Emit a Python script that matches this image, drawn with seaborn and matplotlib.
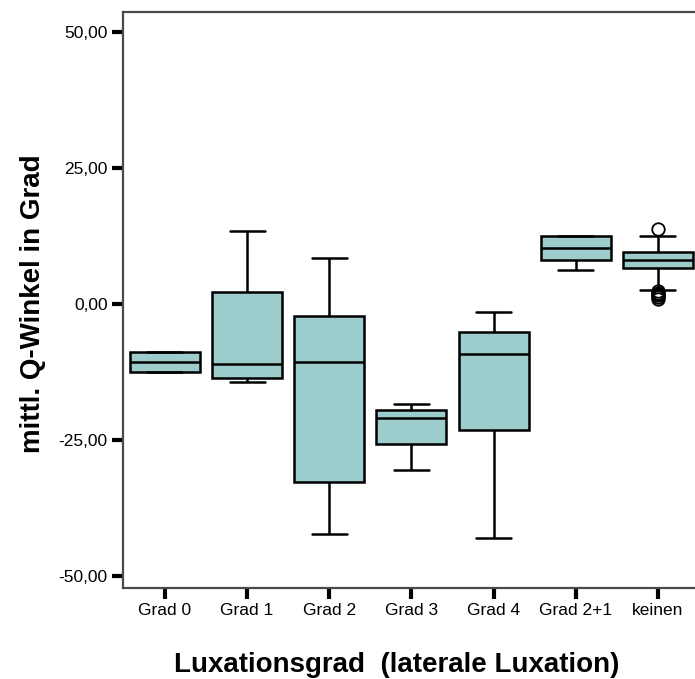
import matplotlib
matplotlib.use("Agg")
import matplotlib.pyplot as plt
from matplotlib.ticker import FuncFormatter
import pandas as pd
import seaborn as sns

# Groups on the x axis
categories = ["Grad 0", "Grad 1", "Grad 2", "Grad 3", "Grad 4", "Grad 2+1", "keinen"]

# Mean Q-angle values (degrees) per luxation grade
grad_0 = [-12.5, -12.5, -10.7, -8.8, -8.8]
grad_1 = [-14.3, -13.5, -11.0, 2.2, 13.5]
grad_2 = [-42.3, -32.7, -10.7, -2.2, 8.5]
grad_3 = [-30.5, -25.7, -20.9, -19.5, -18.4]
grad_4 = [-43.0, -23.2, -9.2, -5.1, -1.5]
grad_2_1 = [6.25, 8.1, 10.3, 12.5, 12.5]
keinen = [1.0, 1.3, 1.6, 1.8, 2.1, 2.4, 2.6,
          6.6, 6.8, 7.0, 7.3, 7.5, 7.7, 7.9,
          8.1, 8.3, 8.5, 8.8, 9.0, 9.2, 9.4,
          9.55, 10.0, 10.6, 11.2, 11.8, 12.2, 12.5,
          13.75]

y_ticks = [-50, -25, 0, 25, 50]

groups = [grad_0, grad_1, grad_2, grad_3, grad_4, grad_2_1, keinen]
df = pd.DataFrame({
    "Luxationsgrad": [c for c, g in zip(categories, groups) for _ in g],
    "Q-Winkel": [v for g in groups for v in g],
})

sns.set_style("white")
plt.rcParams["font.family"] = ["Liberation Sans", "DejaVu Sans"]

W, H = 695, 679
fig = plt.figure(figsize=(W / 100, H / 100), dpi=100)
left, right, top, bottom = 123, 699, 12, 588
ax = fig.add_axes([left / W, (H - bottom) / H, (right - left) / W, (bottom - top) / H])

sns.boxplot(
    data=df, x="Luxationsgrad", y="Q-Winkel", order=categories,
    color="#9ccccc", saturation=1, width=0.85, whis=1.4,
    linecolor="black", linewidth=1.8, fliersize=9,
    flierprops=dict(marker="o", markerfacecolor="none",
                    markeredgecolor="black", markeredgewidth=1.3),
    ax=ax,
)

ax.set_xlim(-0.51, 6.5)
ax.set_ylim(-52.2, 53.7)
ax.set_yticks(y_ticks)
ax.yaxis.set_major_formatter(FuncFormatter(lambda v, _: f"{v:.2f}".replace(".", ",")))

for side in ["top", "left", "bottom"]:
    ax.spines[side].set_color("#4a4a4a")
    ax.spines[side].set_linewidth(1.6)
ax.spines["right"].set_visible(False)

ax.tick_params(axis="both", which="major", left=True, bottom=True,
               direction="out", length=8, width=3, color="black",
               labelsize=12.5, labelcolor="black")
ax.tick_params(axis="x", pad=3)
ax.tick_params(axis="y", pad=3)

ax.set_xlabel("")
ax.set_ylabel("")
fig.text(397 / W, 1 - 665 / H, "Luxationsgrad  (laterale Luxation)",
         ha="center", va="center", fontsize=20, fontweight="bold", color="black")
fig.text(33 / W, 1 - 304 / H, "mittl. Q-Winkel in Grad",
         ha="center", va="center", rotation=90, fontsize=20, fontweight="bold",
         color="black")

fig.savefig("out.png", dpi=100)
